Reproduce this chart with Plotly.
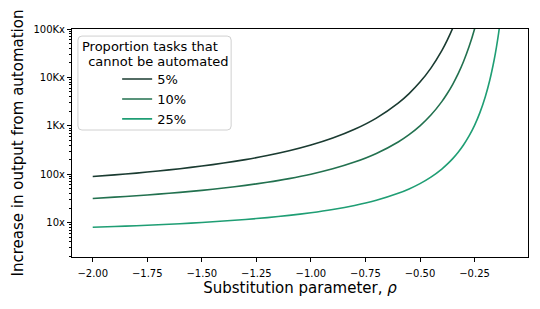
import plotly.graph_objects as go

# Substitution parameter values (rho) sampled along the curves
rho = [-2.0, -1.9, -1.8, -1.7, -1.6, -1.5, -1.4, -1.3, -1.2, -1.1, -1.0, -0.9, -0.8,
       -0.7, -0.6, -0.55, -0.5, -0.45, -0.4, -0.375, -0.35, -0.325, -0.3, -0.275,
       -0.25, -0.225, -0.2, -0.18, -0.16, -0.15, -0.14, -0.13]

# Increase in output from automation
y_5 = [89.44, 96.78, 105.6, 116.5, 130.1, 147.4, 169.9, 200.4, 242.8, 304.6, 400.0,
       558.0, 845.9, 1444, 2947, 4640, 8000, 15567, 35777, 58944, 104295, 201500]
y_10 = [31.62, 33.60, 35.94, 38.74, 42.17, 46.42, 51.79, 58.78, 68.13, 81.11, 100.0,
        129.2, 177.8, 268.3, 464.2, 658.0, 1000, 1668, 3162, 4642, 7197, 11938,
        21544, 43288, 100000, 278256]
y_25 = [8.0, 8.297, 8.640, 9.041, 9.514, 10.08, 10.77, 11.62, 12.70, 14.11, 16.0,
        18.67, 22.63, 28.98, 40.32, 49.72, 64.0, 87.09, 128.0, 161.3, 210.0, 284.8,
        406.4, 618.4, 1024, 1896, 4096, 8845, 23170, 41285, 79891, 171100]

series_names = ["5%", "10%", "25%"]
series_values = [y_5, y_10, y_25]
colors = ["#1a3b31", "#22714f", "#1f9e74"]

x_tick_vals = [-2.0, -1.75, -1.5, -1.25, -1.0, -0.75, -0.5, -0.25]
x_tick_text = ["\u22122.00", "\u22121.75", "\u22121.50", "\u22121.25", "\u22121.00",
               "\u22120.75", "\u22120.50", "\u22120.25"]
y_tick_vals = [10, 100, 1000, 10000, 100000]
y_tick_text = ["10x", "100x", "1Kx", "10Kx", "100Kx"]
y_minor_vals = [m * 10 ** k for k in range(0, 5) for m in range(2, 10)]
legend_title_lines = ["Proportion tasks that", " cannot be automated"]

fig = go.Figure()
for name, vals, col in zip(series_names, series_values, colors):
    fig.add_trace(go.Scatter(
        x=rho[:len(vals)], y=vals, mode="lines", name=name,
        line=dict(color=col, width=1.6, shape="spline", smoothing=0.6),
    ))

FONT = "DejaVu Sans"

# rounded legend frame (paper coordinates)
bx0, bx1, by0, by1 = 0.013, 0.349, 0.557, 0.969
rx, ry = 4 / 456, 4 / 228
frame_path = (
    f"M {bx0 + rx},{by0} L {bx1 - rx},{by0} Q {bx1},{by0} {bx1},{by0 + ry} "
    f"L {bx1},{by1 - ry} Q {bx1},{by1} {bx1 - rx},{by1} "
    f"L {bx0 + rx},{by1} Q {bx0},{by1} {bx0},{by1 - ry} "
    f"L {bx0},{by0 + ry} Q {bx0},{by0} {bx0 + rx},{by0} Z"
)

# the page adds an 8px body margin, so the figure is 8px smaller than the window
fig.update_layout(
    width=532, height=301,
    margin=dict(l=64, r=12, t=21, b=52),
    paper_bgcolor="white", plot_bgcolor="white",
    font=dict(family=FONT, color="black"),
    showlegend=True,
    legend=dict(
        x=0.099, y=0.846, xanchor="left", yanchor="top",
        bgcolor="rgba(0,0,0,0)", borderwidth=0,
        font=dict(family=FONT, size=13, color="black"),
        tracegroupgap=0, itemwidth=30,
    ),
    shapes=[dict(
        type="path", xref="paper", yref="paper", path=frame_path,
        line=dict(color="#d0d0d0", width=1), fillcolor="rgba(255,255,255,0.8)",
        layer="below",
    )],
    annotations=[
        dict(xref="paper", yref="paper", x=0.172, y=0.925,
             text=legend_title_lines[0], showarrow=False,
             xanchor="center", yanchor="middle",
             font=dict(family=FONT, size=13, color="black")),
        dict(xref="paper", yref="paper", x=0.185, y=0.856,
             text=legend_title_lines[1], showarrow=False,
             xanchor="center", yanchor="middle",
             font=dict(family=FONT, size=13, color="black")),
    ],
)

fig.update_xaxes(
    range=[-2.095, -0.005],
    tickvals=x_tick_vals, ticktext=x_tick_text,
    ticks="outside", ticklen=4, tickwidth=1, tickcolor="black",
    tickfont=dict(family=FONT, size=10, color="black"),
    ticklabelstandoff=3,
    showline=True, linecolor="black", linewidth=1, mirror=True,
    showgrid=False, zeroline=False,
    title=dict(text="Substitution parameter, <i>\u03c1</i>",
               font=dict(family=FONT, size=15, color="black"), standoff=2),
    automargin=False,
)
fig.update_yaxes(
    type="log", range=[0.29, 5.0],
    tickvals=y_tick_vals, ticktext=y_tick_text,
    ticks="outside", ticklen=4, tickwidth=1, tickcolor="black",
    tickfont=dict(family=FONT, size=10, color="black"),
    minor=dict(tickvals=y_minor_vals, ticks="outside", ticklen=2, tickwidth=0.8,
               tickcolor="black", showgrid=False),
    showline=True, linecolor="black", linewidth=1, mirror=True,
    showgrid=False, zeroline=False,
    title=dict(text="Increase in output from automation",
               font=dict(family=FONT, size=15, color="black"), standoff=6),
    automargin=False,
)

fig.write_html("out.html")
